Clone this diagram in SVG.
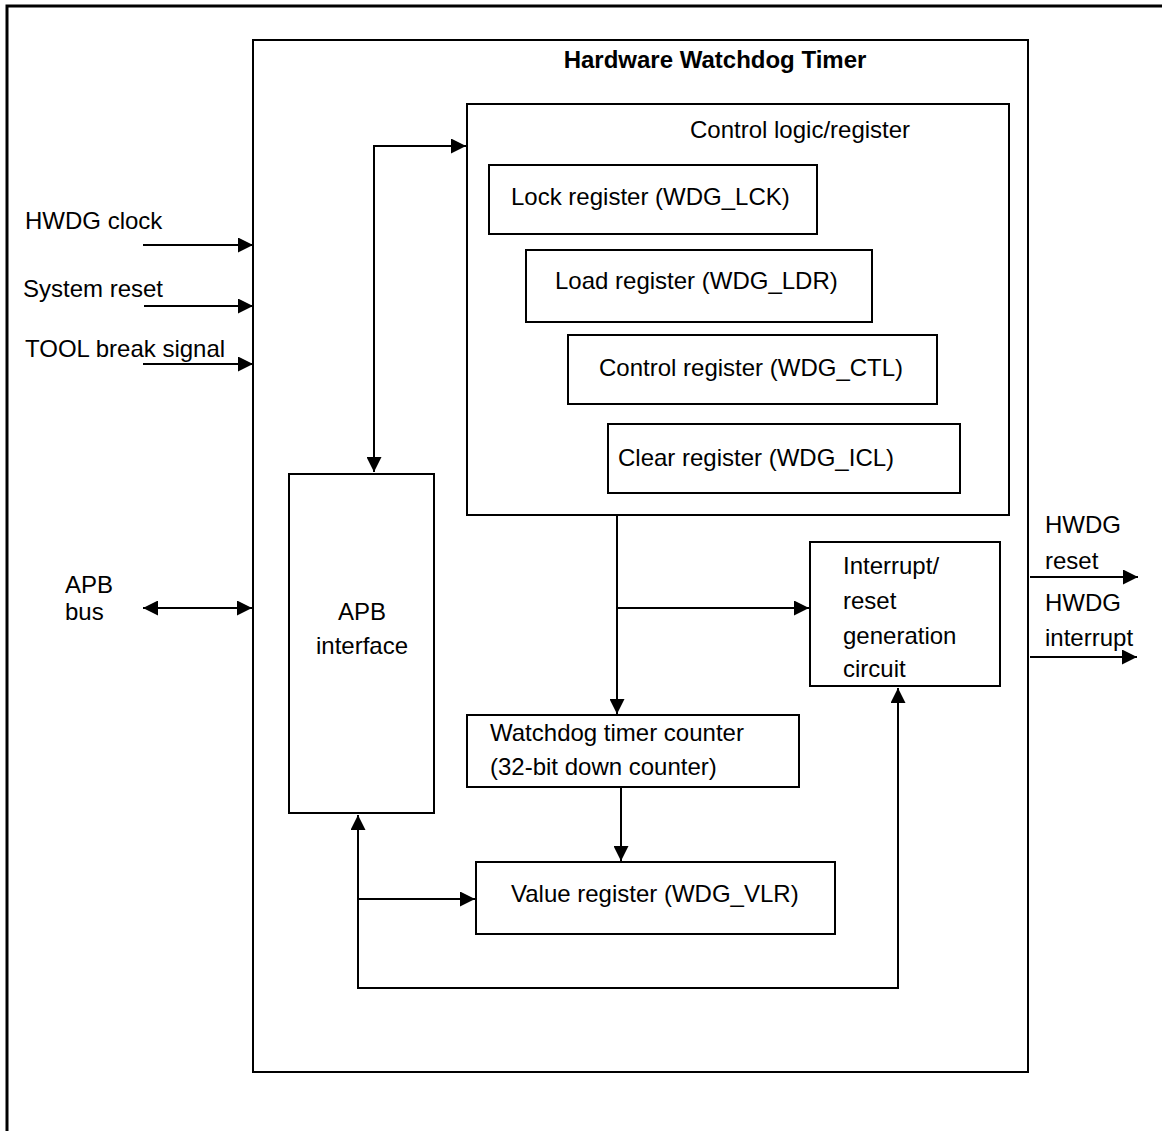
<svg xmlns="http://www.w3.org/2000/svg" width="1162" height="1131" viewBox="0 0 1162 1131">
  <style>
    .box { fill: #fff; stroke: #000; stroke-width: 2; }
    .frame { fill: none; stroke: #000; stroke-width: 3; }
    .wire { fill: none; stroke: #000; stroke-width: 2; }
    text { font-family: "Liberation Sans", Arial, sans-serif; font-size: 24px; fill: #000; }
    .title { font-weight: bold; }
    .mid { text-anchor: middle; }
  </style>
  <defs>
    <marker id="arrow" viewBox="0 0 15 15" refX="15" refY="7.5" markerWidth="15" markerHeight="15" markerUnits="userSpaceOnUse" orient="auto-start-reverse">
      <path d="M0,0 L15,7.5 L0,15 z" fill="#000"/>
    </marker>
  </defs>

  <rect width="1162" height="1131" fill="#fff"/>
  <!-- page frame -->
  <rect class="frame" x="7" y="6" width="1170" height="1140"/>

  <!-- watchdog block -->
  <g id="hwdg">
    <rect class="box" x="253" y="40" width="775" height="1032"/>
    <text class="title mid" x="715" y="68">Hardware Watchdog Timer</text>
  </g>

  <g id="control-logic">
    <rect class="box" x="467" y="104" width="542" height="411"/>
    <text x="690" y="138">Control logic/register</text>
  </g>
  <g id="lock-register">
    <rect class="box" x="489" y="165" width="328" height="69"/>
    <text x="511" y="205">Lock register (WDG_LCK)</text>
  </g>
  <g id="load-register">
    <rect class="box" x="526" y="250" width="346" height="72"/>
    <text x="555" y="289">Load register (WDG_LDR)</text>
  </g>
  <g id="control-register">
    <rect class="box" x="568" y="335" width="369" height="69"/>
    <text x="599" y="376">Control register (WDG_CTL)</text>
  </g>
  <g id="clear-register">
    <rect class="box" x="608" y="424" width="352" height="69"/>
    <text x="618" y="466">Clear register (WDG_ICL)</text>
  </g>

  <g id="apb-interface">
    <rect class="box" x="289" y="474" width="145" height="339"/>
    <text class="mid" x="362" y="620">APB</text>
    <text class="mid" x="362" y="654">interface</text>
  </g>

  <g id="irq-reset-gen">
    <rect class="box" x="810" y="542" width="190" height="144"/>
    <text x="843" y="574">Interrupt/</text>
    <text x="843" y="609">reset</text>
    <text x="843" y="644">generation</text>
    <text x="843" y="677">circuit</text>
  </g>

  <g id="counter">
    <rect class="box" x="467" y="715" width="332" height="72"/>
    <text x="490" y="741">Watchdog timer counter</text>
    <text x="490" y="775">(32-bit down counter)</text>
  </g>

  <g id="value-register">
    <rect class="box" x="476" y="862" width="359" height="72"/>
    <text x="511" y="902">Value register (WDG_VLR)</text>
  </g>

  <!-- external signal labels -->
  <g id="inputs">
    <text x="25" y="229">HWDG clock</text>
    <text x="23" y="297">System reset</text>
    <text x="25" y="357">TOOL break signal</text>
    <text x="65" y="593">APB</text>
    <text x="65" y="620">bus</text>
  </g>
  <g id="outputs">
    <text x="1045" y="533">HWDG</text>
    <text x="1045" y="569">reset</text>
    <text x="1045" y="611">HWDG</text>
    <text x="1045" y="646">interrupt</text>
  </g>

  <g id="connectors">
    <path class="wire" d="M143,245 H253" marker-end="url(#arrow)"/>
    <path class="wire" d="M144,306 H253" marker-end="url(#arrow)"/>
    <path class="wire" d="M143,364 H253" marker-end="url(#arrow)"/>
    <path class="wire" d="M143,608 H252" marker-start="url(#arrow)" marker-end="url(#arrow)"/>
    <path class="wire" d="M374,472 V146 H466" marker-start="url(#arrow)" marker-end="url(#arrow)"/>
    <path class="wire" d="M617,515 V714" marker-end="url(#arrow)"/>
    <path class="wire" d="M617,608 H809" marker-end="url(#arrow)"/>
    <path class="wire" d="M621,787 V861" marker-end="url(#arrow)"/>
    <path class="wire" d="M358,815 V988 H898 V688" marker-start="url(#arrow)" marker-end="url(#arrow)"/>
    <path class="wire" d="M358,899 H475" marker-end="url(#arrow)"/>
    <path class="wire" d="M1030,577 H1138" marker-end="url(#arrow)"/>
    <path class="wire" d="M1030,657 H1137" marker-end="url(#arrow)"/>
  </g>
</svg>
